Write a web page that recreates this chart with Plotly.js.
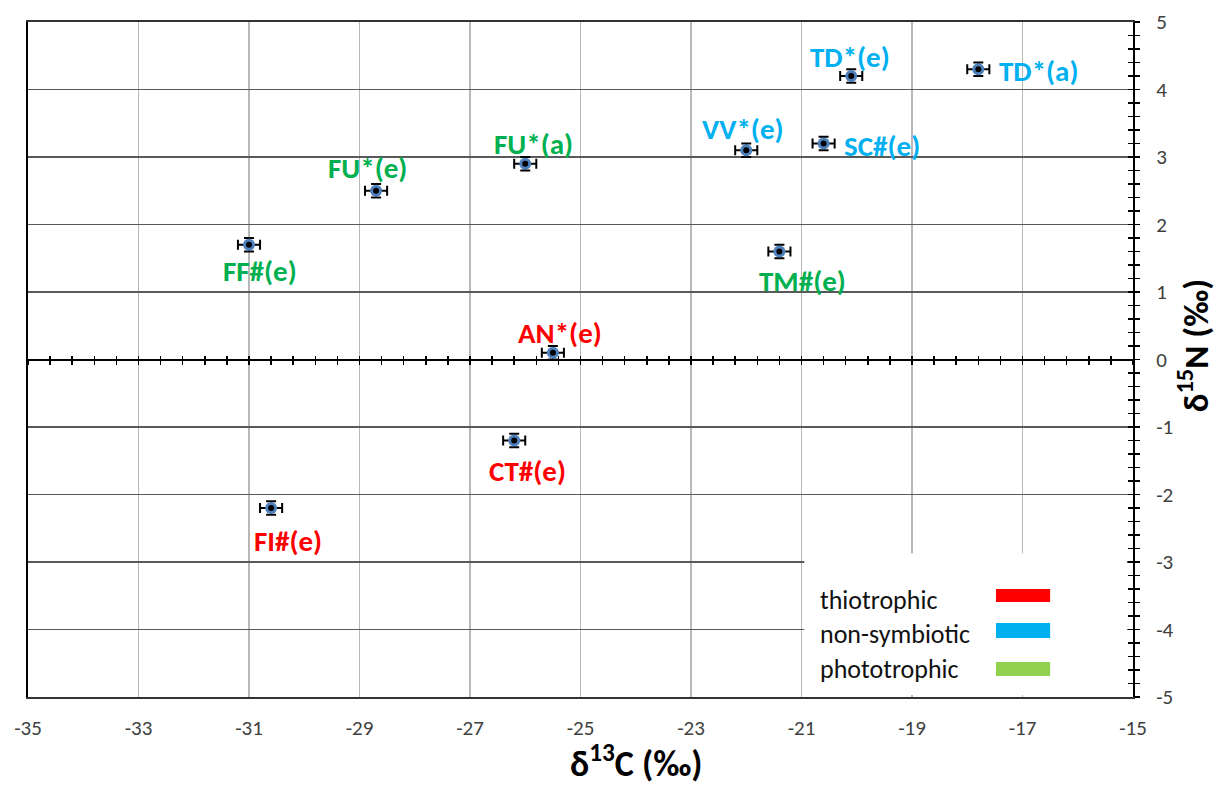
<!DOCTYPE html>
<html>
<head>
<meta charset="utf-8">
<script src="https://cdn.plot.ly/plotly-3.0.1.min.js"></script>
<style>html,body{margin:0;padding:0;background:#fff;}#chart{width:1218px;height:789px;}</style>
</head>
<body>
<div id="chart"></div>
<script>
// ---- data ----
var sampleNames = ['TD*(e)','TD*(a)','SC#(e)','VV*(e)','FU*(a)','FU*(e)','FF#(e)','TM#(e)','AN*(e)','CT#(e)','FI#(e)'];
var groups      = ['non-symbiotic','non-symbiotic','non-symbiotic','non-symbiotic','phototrophic','phototrophic','phototrophic','phototrophic','thiotrophic','thiotrophic','thiotrophic'];
var d13C        = [-20.1, -17.8, -20.6, -22.0, -26.0, -28.7, -31.0, -21.4, -25.5, -26.2, -30.6];
var d15N        = [4.2, 4.3, 3.2, 3.1, 2.9, 2.5, 1.7, 1.6, 0.1, -1.2, -2.2];
var d13Cerr     = [0.2, 0.2, 0.2, 0.2, 0.2, 0.2, 0.2, 0.2, 0.2, 0.2, 0.2];
var d15Nerr     = [0.1, 0.1, 0.1, 0.1, 0.1, 0.1, 0.1, 0.1, 0.1, 0.1, 0.1];
var legendNames = ['thiotrophic','non-symbiotic','phototrophic'];
var xTickVals   = [-35,-33,-31,-29,-27,-25,-23,-21,-19,-17,-15];
var yTickVals   = [-5,-4,-3,-2,-1,0,1,2,3,4,5];

// ---- styling ----
var labelColor  = {'thiotrophic':'#ff0000','non-symbiotic':'#00b0f0','phototrophic':'#00b050'};
var swatchColor = {'thiotrophic':'#ff0000','non-symbiotic':'#00b0f0','phototrophic':'#92d050'};
// label offsets in pixels relative to the point [dx, dy(up)]
var labelShift = [[-1,19],[60,-2],[58,-2],[-3,21],[8,20],[-9,23],[11,-26],[23,-29],[7,20],[13,-30],[17,-33]];
var FONT = 'Carlito, Lato, "Liberation Sans", sans-serif';

var traces = [
  {
    type:'scatter', mode:'markers', x:d13C, y:d15N, hoverinfo:'skip',
    marker:{size:12, color:'#4f81bd', line:{width:0}},
    error_x:{type:'data', array:d13Cerr, visible:true, color:'#000', thickness:2, width:5},
    error_y:{type:'data', array:d15Nerr, visible:true, color:'#000', thickness:2, width:5},
    showlegend:false
  },
  {
    type:'scatter', mode:'markers', x:d13C, y:d15N, hoverinfo:'skip',
    marker:{size:6, color:'#000'}, showlegend:false
  },
  // invisible copies that carry the crossing-tick overlay axes
  {type:'scatter', mode:'markers', x:d13C, y:d15N, xaxis:'x2', yaxis:'y', marker:{opacity:0}, hoverinfo:'skip', showlegend:false},
  {type:'scatter', mode:'markers', x:d13C, y:d15N, xaxis:'x3', yaxis:'y', marker:{opacity:0}, hoverinfo:'skip', showlegend:false},
  {type:'scatter', mode:'markers', x:d13C, y:d15N, xaxis:'x', yaxis:'y2', marker:{opacity:0}, hoverinfo:'skip', showlegend:false}
];

var annotations = [];
for (var i = 0; i < sampleNames.length; i++) {
  annotations.push({
    x:d13C[i], y:d15N[i], xref:'x', yref:'y', text:sampleNames[i], showarrow:false,
    xanchor:'center', yanchor:'middle', xshift:labelShift[i][0], yshift:labelShift[i][1],
    font:{family:FONT, size:29, weight:600, color:labelColor[groups[i]]}
  });
}
// axis titles
annotations.push({xref:'paper', yref:'paper', x:0.551, y:-0.096, text:'<b>δ<sup>13</sup>C (‰)</b>', showarrow:false,
  xanchor:'center', yanchor:'middle', font:{family:FONT, size:36, color:'#000'}});
annotations.push({xref:'paper', yref:'paper', x:1.0545, y:0.52, text:'<b>δ<sup>15</sup>N (‰)</b>', showarrow:false, textangle:-90,
  xanchor:'center', yanchor:'middle', font:{family:FONT, size:35, color:'#000'}});

// legend box
var legendY = [0.1437, 0.0933, 0.0415];
var swatchY = [[0.1407,0.16],[0.0874,0.1096],[0.0311,0.0519]];
var shapes = [
  {type:'rect', xref:'x', yref:'y', x0:-20.95, x1:-15.11, y0:-4.97, y1:-2.87, fillcolor:'#fff', line:{width:0}, layer:'above'}
];
for (var k = 0; k < legendNames.length; k++) {
  annotations.push({xref:'paper', yref:'paper', x:0.7145, y:legendY[k], text:legendNames[k], showarrow:false,
    xanchor:'left', yanchor:'middle', font:{family:FONT, size:26, color:'#111'}});
  shapes.push({type:'rect', xref:'paper', yref:'paper', x0:0.876, x1:0.925, y0:swatchY[k][0], y1:swatchY[k][1],
    fillcolor:swatchColor[legendNames[k]], line:{width:0}, layer:'above'});
}

var layout = {
  width:1218, height:789,
  margin:{l:28, r:85, t:22, b:92},
  paper_bgcolor:'#fff', plot_bgcolor:'#fff',
  showlegend:false,
  font:{family:FONT, color:'#404040'},
  xaxis:{
    range:[-35,-15], tickmode:'array', tickvals:xTickVals, ticktext:xTickVals.map(String),
    showgrid:true, gridcolor:'#b8b8b8', gridwidth:1.5,
    showline:true, linecolor:'#333', linewidth:2, mirror:true,
    ticks:'', ticklabelstandoff:11, zeroline:false,
    tickfont:{family:FONT, size:21, color:'#404040'}
  },
  xaxis2:{
    range:[-35,-15], overlaying:'x', anchor:'free', position:0.5,
    tickmode:'linear', tick0:-35, dtick:0.4, ticks:'outside', ticklen:4, tickwidth:1.5, tickcolor:'#000',
    showline:true, linecolor:'#000', linewidth:2, showticklabels:false, showgrid:false, zeroline:false
  },
  xaxis3:{
    range:[-35,-15], overlaying:'x', anchor:'free', position:0.5,
    tickmode:'linear', tick0:-35, dtick:0.4, ticks:'inside', ticklen:4, tickwidth:1.5, tickcolor:'#000',
    showline:false, showticklabels:false, showgrid:false, zeroline:false
  },
  yaxis:{
    range:[-5,5], side:'right', tickmode:'array', tickvals:yTickVals, ticktext:yTickVals.map(String),
    showgrid:true, gridcolor:'#595959', gridwidth:1.5,
    showline:true, linecolor:'#000', linewidth:2, mirror:true,
    ticks:'outside', ticklen:5, tickwidth:1.5, tickcolor:'#000',
    minor:{tickmode:'linear', dtick:0.2, ticks:'outside', ticklen:5, tickwidth:1.5, tickcolor:'#000', showgrid:false},
    ticklabelstandoff:12, zeroline:false,
    tickfont:{family:FONT, size:21, color:'#404040'}
  },
  yaxis2:{
    range:[-5,5], overlaying:'y', side:'right', anchor:'x',
    tickmode:'linear', tick0:-5, dtick:1, ticks:'inside', ticklen:5, tickwidth:1.5, tickcolor:'#000',
    minor:{tickmode:'linear', dtick:0.2, ticks:'inside', ticklen:5, tickwidth:1.5, tickcolor:'#000', showgrid:false},
    showline:false, showticklabels:false, showgrid:false, zeroline:false
  },
  annotations:annotations,
  shapes:shapes
};

Plotly.newPlot('chart', traces, layout, {displayModeBar:false, staticPlot:true});
</script>
</body>
</html>
